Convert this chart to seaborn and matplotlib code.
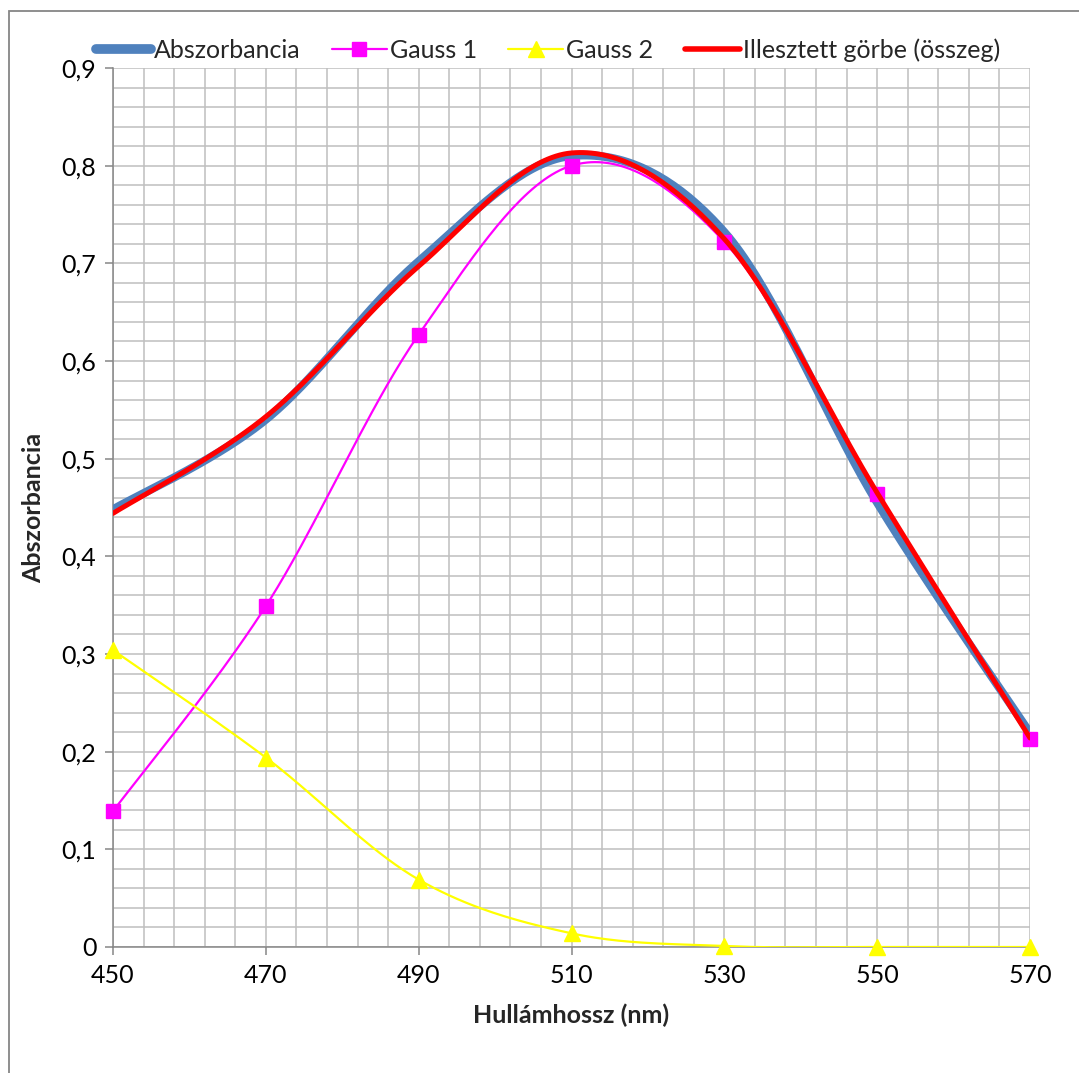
import matplotlib
matplotlib.use("Agg")
import matplotlib.pyplot as plt
from matplotlib.lines import Line2D
from matplotlib.patches import Rectangle
from matplotlib.ticker import FuncFormatter, MultipleLocator
import numpy as np
import pandas as pd
import seaborn as sns

# data
wavelength = [450, 470, 490, 510, 530, 550, 570]
absorbance = [0.448, 0.540, 0.702, 0.810, 0.732, 0.455, 0.219]
gauss1 = [0.139, 0.349, 0.627, 0.800, 0.722, 0.464, 0.213]
gauss2 = [0.304, 0.194, 0.069, 0.014, 0.001, 0.000, 0.000]
fitted = [0.444, 0.543, 0.697, 0.813, 0.725, 0.465, 0.214]

labels = ["Abszorbancia", "Gauss 1", "Gauss 2", "Illesztett görbe (összeg)"]
x_ticks = [450, 470, 490, 510, 530, 550, 570]


def smooth(xs, ys, n=40):
    """Excel-style smoothed line: cubic Bezier segments with Catmull-Rom control points."""
    p = np.column_stack([xs, ys]).astype(float)
    out = []
    t = np.linspace(0, 1, n)[:, None]
    for i in range(len(p) - 1):
        p0 = p[i]
        p3 = p[i + 1]
        prev = p[i - 1] if i > 0 else p[i]
        nxt = p[i + 2] if i + 2 < len(p) else p[i + 1]
        c1 = p0 + (p3 - prev) / 6
        c2 = p3 - (nxt - p0) / 6
        seg = (1 - t) ** 3 * p0 + 3 * (1 - t) ** 2 * t * c1 + 3 * (1 - t) * t ** 2 * c2 + t ** 3 * p3
        out.append(seg if i == 0 else seg[1:])
    pts = np.vstack(out)
    return pd.DataFrame({"x": pts[:, 0], "y": pts[:, 1]})


sns.set_theme(style="white")
plt.rcParams["font.family"] = ["Lato", "DejaVu Sans"]

fig = plt.figure(figsize=(10.79, 10.73), dpi=100)
ax = fig.add_axes([113 / 1079, 1 - 947 / 1073, 917 / 1079, 879 / 1073])

blue = "#4F81BD"
magenta = "#FF00FF"
yellow = "#FFFF00"
red = "#FF0000"

sns.lineplot(data=smooth(wavelength, absorbance), x="x", y="y", sort=False, ax=ax,
             color=blue, linewidth=6, solid_capstyle="round", zorder=3)
sns.lineplot(data=smooth(wavelength, gauss1), x="x", y="y", sort=False, ax=ax,
             color=magenta, linewidth=1.6, zorder=4)
sns.lineplot(data=smooth(wavelength, gauss2), x="x", y="y", sort=False, ax=ax,
             color=yellow, linewidth=1.6, zorder=4)
ax.plot(wavelength, gauss1, linestyle="none", marker="s", markersize=10,
        color=magenta, zorder=5, clip_on=False)
ax.plot(wavelength, gauss2, linestyle="none", marker="^", markersize=11,
        color=yellow, zorder=5, clip_on=False)
sns.lineplot(data=smooth(wavelength, fitted), x="x", y="y", sort=False, ax=ax,
             color=red, linewidth=3.6, solid_capstyle="round", zorder=6)

ax.set_xlim(450, 570)
ax.set_ylim(0, 0.9)
ax.set_xticks(x_ticks)
ax.yaxis.set_major_locator(MultipleLocator(0.1))
ax.xaxis.set_minor_locator(MultipleLocator(4, offset=450))
ax.yaxis.set_minor_locator(MultipleLocator(0.02))
ax.yaxis.set_major_formatter(FuncFormatter(lambda v, _: "0" if abs(v) < 1e-9 else f"{v:.1f}".replace(".", ",")))

ax.grid(which="both", color="#BFBFBF", linewidth=1.1, zorder=0)
ax.set_axisbelow(True)
for s in ["top", "right"]:
    ax.spines[s].set_visible(False)
for s in ["left", "bottom"]:
    ax.spines[s].set_color("#868686")
    ax.spines[s].set_linewidth(1.1)

ax.tick_params(which="major", direction="out", length=6, width=1.1, color="#868686",
               labelsize=18, labelcolor="black", pad=6, left=True, bottom=True)
ax.tick_params(which="minor", length=0)

ax.set_xlabel("Hullámhossz (nm)", fontsize=18, fontweight="bold", labelpad=12)
ax.set_ylabel("Abszorbancia", fontsize=18, fontweight="bold", labelpad=12)

handles = [
    Line2D([], [], color=blue, linewidth=7, solid_capstyle="round"),
    Line2D([], [], color=magenta, linewidth=1.6, marker="s", markersize=10),
    Line2D([], [], color=yellow, linewidth=1.6, marker="^", markersize=11),
    Line2D([], [], color=red, linewidth=4, solid_capstyle="round"),
]
fig.legend(handles, labels, loc="center left", bbox_to_anchor=(96 / 1079, 1 - 50 / 1073),
           ncol=4, frameon=False, fontsize=18, handlelength=2.2, handletextpad=0.12,
           columnspacing=1.25, borderaxespad=0, borderpad=0)

fig.add_artist(Rectangle((9 / 1079, -0.05), 1.2, 1 - 11 / 1073 + 0.05,
                         transform=fig.transFigure, fill=False,
                         edgecolor="#868686", linewidth=1.3))

fig.savefig("out.png", dpi=100)
plt.close(fig)
